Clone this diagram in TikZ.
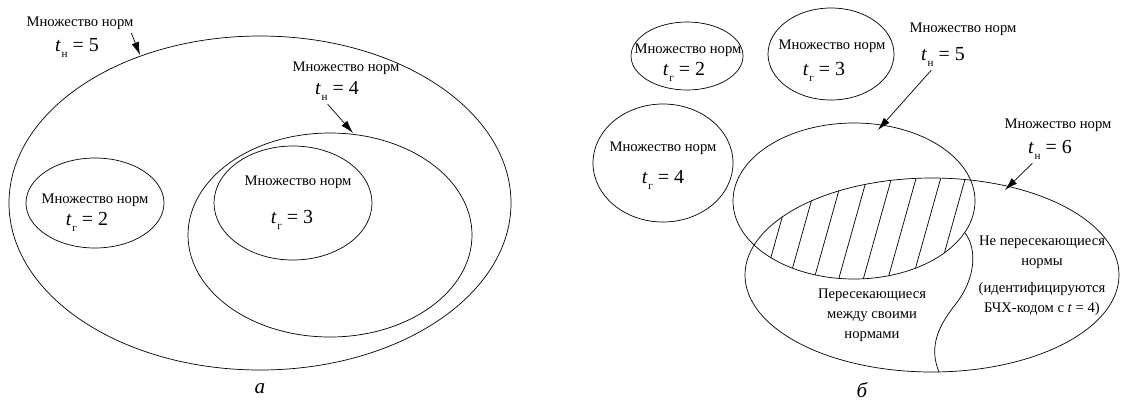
\documentclass[tikz,border=0pt]{standalone}
\usepackage{fontspec}
\setmainfont{Liberation Serif}
\usetikzlibrary{arrows.meta}
\newcommand\tset[2]{\textit{t}\kern0.5pt\raisebox{-0.6ex}{\fontsize{9.5}{9.5}\selectfont #1} = #2}

\begin{document}
\begin{tikzpicture}[x=0.03cm,y=-0.03cm,line width=0.6pt,
  lbl/.style={font=\fontsize{12.5}{14}\selectfont,inner sep=0pt},
  val/.style={font=\fontsize{17}{19}\selectfont,inner sep=0pt},
  note/.style={font=\fontsize{12.5}{17}\selectfont,align=center,inner sep=0pt},
  pnt/.style={-{Latex[length=11pt,width=6.5pt]}},
  tag/.style={font=\itshape\fontsize{18}{20}\selectfont,inner sep=0pt}]
\useasboundingbox (0,0) rectangle (1121,407);
% panel a
\draw (260,203) ellipse [x radius=251,y radius=167];
\draw (330,235) ellipse [x radius=142,y radius=102];
\draw (293,203) ellipse [x radius=79,y radius=57];
\draw (95,203) ellipse [x radius=69,y radius=45];
\node[lbl] (n5) at (80,23) {Множество норм};
\node[val] (v5) at (77,48) {\tset{н}{5}};
\coordinate (e5) at (140,55);
\draw[pnt] ([xshift=-2pt,yshift=-3pt]n5.south east) -- (e5);
\node[lbl] (n4) at (346,68) {Множество норм};
\node[val] (v4) at (337,91) {\tset{н}{4}};
\coordinate (e4) at (353,133);
\draw[pnt] ([xshift=-8pt,yshift=-3pt]v4.south) -- (e4);
\node[lbl] (n3) at (298,182) {Множество норм};
\node[val] (v3) at (292,220) {\tset{г}{3}};
\node[lbl] (n2) at (95,200) {Множество норм};
\node[val] (v2) at (87,222) {\tset{г}{2}};
\node[tag] (ta) at (260,389) {а};
% panel b: hatched overlap
\begin{scope}
  \clip (854,201) ellipse [x radius=121,y radius=78];
  \clip (932,275) ellipse [x radius=187,y radius=97];
  \foreach \k in {0,...,7}
    \draw ({759+24.6*\k},300) -- ({795.4+24.6*\k},170);
\end{scope}
\draw (854,201) ellipse [x radius=121,y radius=78];
\draw (932,275) ellipse [x radius=187,y radius=97];
\draw (965,233) .. controls (978,250) and (975,280) .. (955,305)
  .. controls (935,330) and (930,350) .. (939,372);
\draw (687,56) ellipse [x radius=56,y radius=34];
\draw (831,54) ellipse [x radius=63,y radius=46];
\draw (663,163) ellipse [x radius=70,y radius=59];
\node[lbl] (m2) at (688,50) {Множество норм};
\node[val] (w2) at (684,72) {\tset{г}{2}};
\node[lbl] (m3) at (832,46) {Множество норм};
\node[val] (w3) at (824,72) {\tset{г}{3}};
\node[lbl] (m4) at (663,148) {Множество норм};
\node[val] (w4) at (663,180) {\tset{г}{4}};
\node[lbl] (m5) at (963,29) {Множество норм};
\node[val] (w5) at (943,57) {\tset{н}{5}};
\coordinate (f5) at (878,130);
\draw[pnt] ([xshift=-10pt,yshift=-3pt]w5.south) -- (f5);
\node[lbl] (m6) at (1058,125) {Множество норм};
\node[val] (w6) at (1050,150) {\tset{н}{6}};
\coordinate (f6) at (1005,190);
\draw[pnt] ([xshift=-15pt,yshift=-3pt]w6.south) -- (f6);
\node[note] (cross) at (872,315) {Пересекающиеся\\между своими\\нормами};
\node[note] (free) at (1042,252) {Не пересекающиеся\\нормы};
\node[note] (bch) at (1042,299) {(идентифицируются\\БЧХ-кодом с \textit{t} = 4)};
\node[tag] (tb) at (862,390) {б};
\end{tikzpicture}
\end{document}
